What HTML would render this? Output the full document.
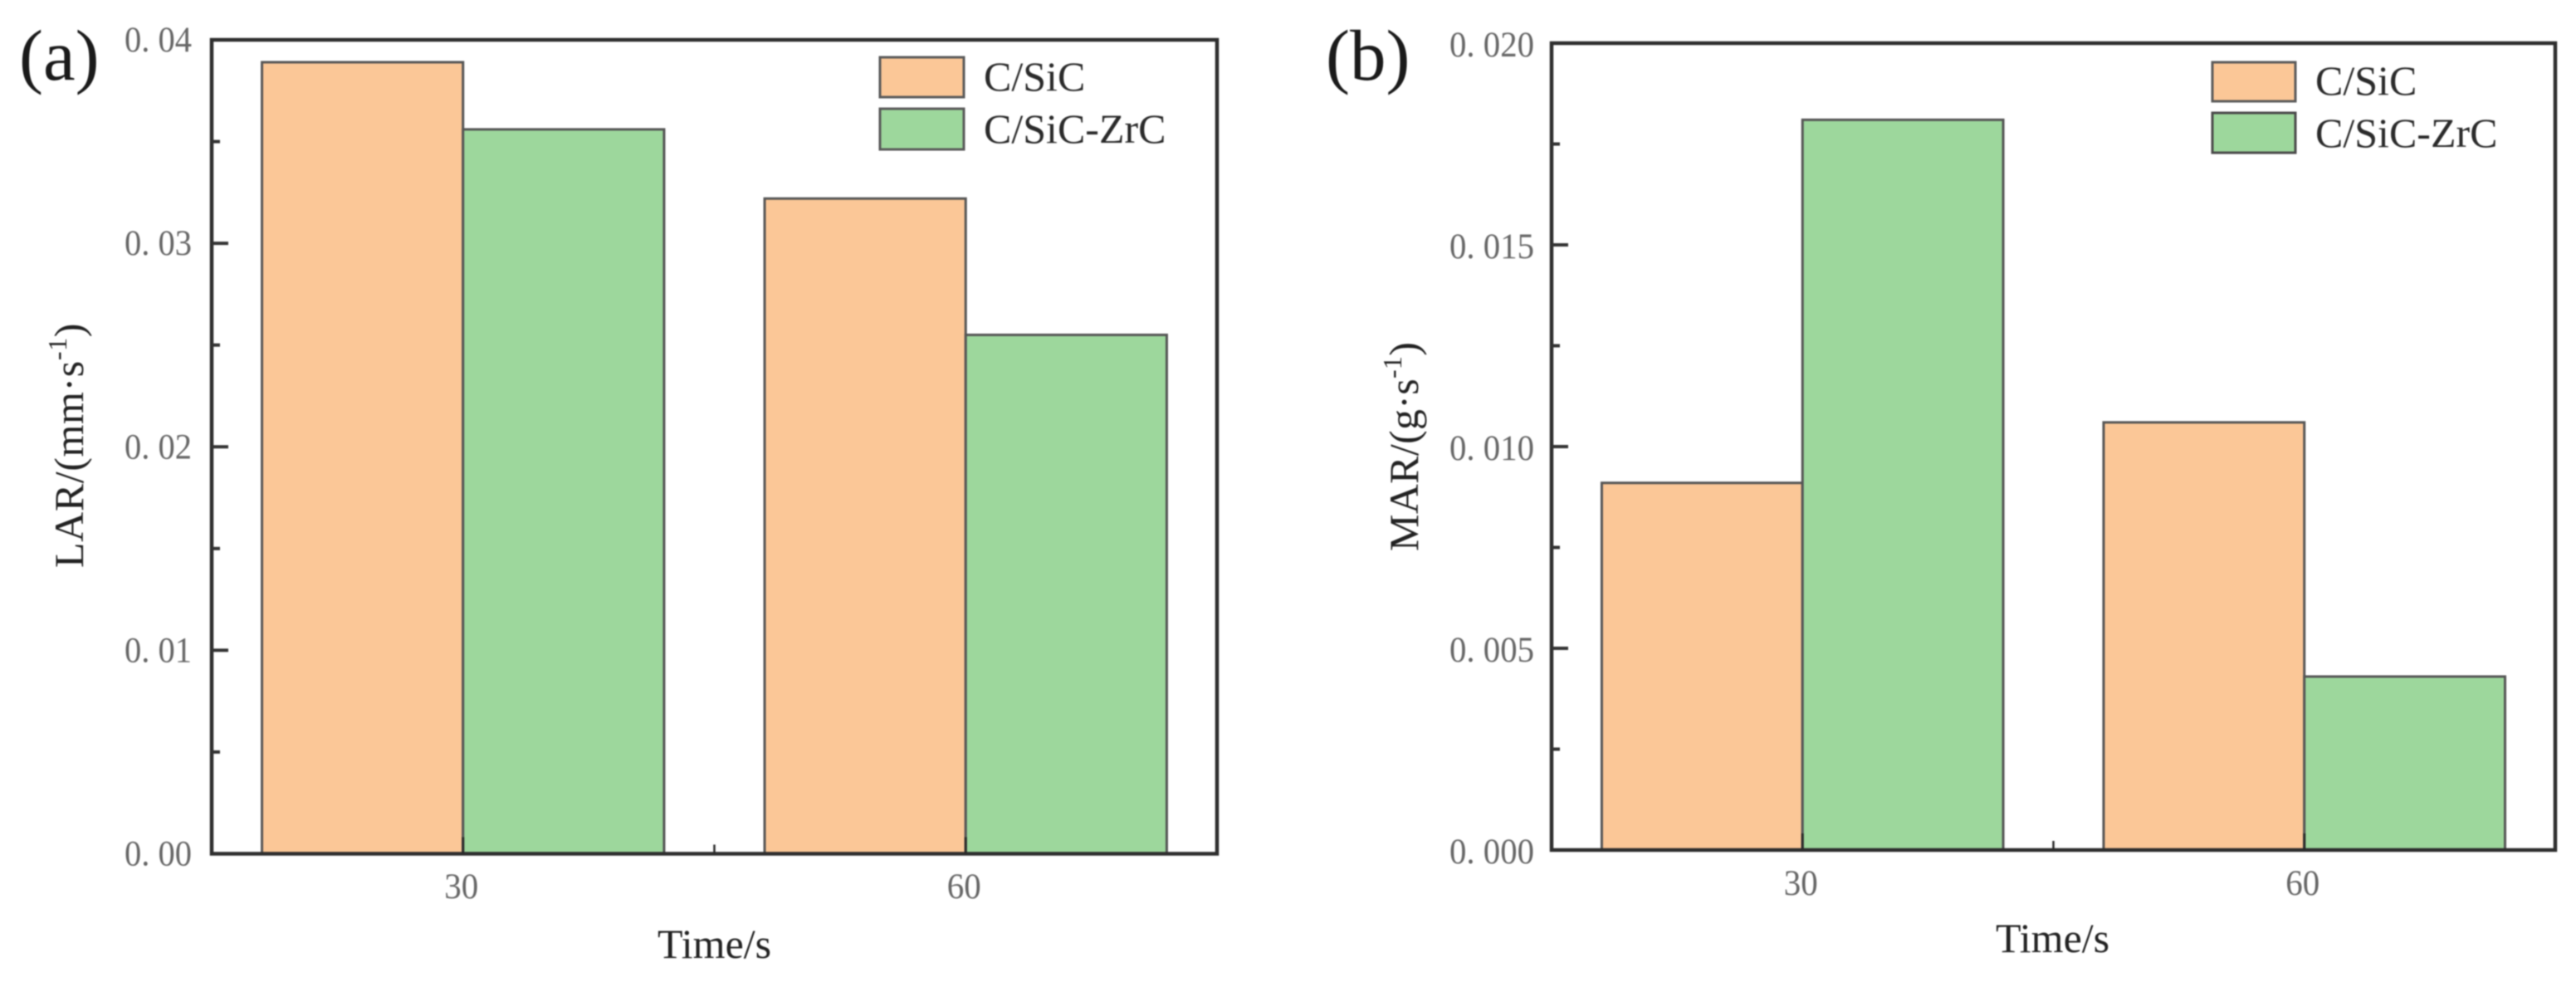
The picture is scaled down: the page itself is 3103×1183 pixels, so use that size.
<!DOCTYPE html>
<html lang="en">
<head>
<meta charset="utf-8">
<title>LAR and MAR bar charts</title>
<style>
html,body{margin:0;padding:0;background:#fff;}
body{width:3103px;height:1183px;overflow:hidden;}
svg{display:block;filter:blur(0.7px);}
text{font-family:"Liberation Serif","DejaVu Serif",serif;}
.title{font-size:50px;fill:#222;}
.legend{font-size:50px;fill:#2a2a2a;}
.panel{font-size:87px;fill:#1a1a1a;}
.tick{font-size:43px;fill:#666;}
</style>
</head>
<body>
<svg id="figure" xmlns="http://www.w3.org/2000/svg" width="3103" height="1183" viewBox="0 0 3103 1183">
  <rect x="0" y="0" width="3103" height="1183" fill="#fff"/>
  <g id="plot-a"></g>
  <g id="plot-b"></g>

  <text class="panel" x="23" y="96">(a)</text>
  <text class="panel" x="1597" y="96">(b)</text>

  <text class="title" x="792" y="1154">Time/s</text>
  <text class="title" x="2404" y="1147">Time/s</text>
  <text class="title" letter-spacing="0.6" transform="translate(100 684) rotate(-90)">LAR/(mm·s<tspan dy="-20" font-size="32">-1</tspan><tspan dy="20">)</tspan></text>
  <text class="title" letter-spacing="0.3" transform="translate(1708 664) rotate(-90)">MAR/(g·s<tspan dy="-20" font-size="32">-1</tspan><tspan dy="20">)</tspan></text>

  <g>
    <rect x="1060" y="69" width="101" height="48" fill="#FBC797" stroke="#5a5a5a" stroke-width="3"/>
    <text class="legend" x="1185" y="109">C/SiC</text>
    <rect x="1060" y="131" width="101" height="49" fill="#9DD79C" stroke="#5a5a5a" stroke-width="3"/>
    <text class="legend" x="1185" y="172">C/SiC-ZrC</text>
  </g>
  <g>
    <rect x="2665" y="75" width="100" height="47" fill="#FBC797" stroke="#5a5a5a" stroke-width="3"/>
    <text class="legend" x="2789" y="114">C/SiC</text>
    <rect x="2665" y="136" width="100" height="48" fill="#9DD79C" stroke="#4a4a4a" stroke-width="3"/>
    <text class="legend" x="2789" y="177">C/SiC-ZrC</text>
  </g>
</svg>
<script>
// Shared category data
const timeCategories = [30, 60];
const timeLabels = ["30", "60"];
const xMinorTicks = [45];

// Panel (a): LAR
const larCSiC = [0.0389, 0.0322];
const larCSiCZrC = [0.0356, 0.0255];
const larTicks = [0, 0.01, 0.02, 0.03, 0.04];
const larTickLabels = ["0. 00", "0. 01", "0. 02", "0. 03", "0. 04"];
const larMinorTicks = [0.005, 0.015, 0.025, 0.035];

// Panel (b): MAR
const marCSiC = [0.0091, 0.0106];
const marCSiCZrC = [0.0181, 0.0043];
const marTicks = [0, 0.005, 0.01, 0.015, 0.02];
const marTickLabels = ["0. 000", "0. 005", "0. 010", "0. 015", "0. 020"];
const marMinorTicks = [0.0025, 0.0075, 0.0125, 0.0175];

const SVG_NS = "http://www.w3.org/2000/svg";
const X_MIN = 15, X_MAX = 75, BAR_UNITS = 12;

function makeEl(parent, tag, attrs, text) {
  const el = document.createElementNS(SVG_NS, tag);
  for (const k in attrs) el.setAttribute(k, attrs[k]);
  if (text !== undefined) el.textContent = text;
  parent.appendChild(el);
  return el;
}

function drawPanel(cfg) {
  const root = document.getElementById(cfg.id);
  const xScale = function (v) { return cfg.left + (v - X_MIN) / (X_MAX - X_MIN) * (cfg.right - cfg.left); };
  const yScale = function (v) { return cfg.bottom - v / cfg.yMax * (cfg.bottom - cfg.top); };
  const barW = xScale(BAR_UNITS + X_MIN) - xScale(X_MIN);
  const seriesList = [
    { name: "csic", values: cfg.orange, fill: "#FBC797", offset: -1 },
    { name: "csic-zrc", values: cfg.green, fill: "#9DD79C", offset: 0 }
  ];

  seriesList.forEach(function (s) {
    s.values.forEach(function (v, i) {
      const x = xScale(timeCategories[i]) + s.offset * barW;
      const y = yScale(v);
      const bar = makeEl(root, "rect", { x: x, y: y, width: barW, height: yScale(0) - y, fill: s.fill, stroke: "#555", "stroke-width": 3 });
      
      
      bar.setAttribute('data-series', s.name);
      bar.setAttribute('data-category', timeLabels[i]);
    });
  });

  const frame = makeEl(root, "rect", { x: cfg.left, y: cfg.top, width: cfg.right - cfg.left, height: cfg.bottom - cfg.top, fill: "none", stroke: "#2e2e2e", "stroke-width": 4.5 });
  
  

  cfg.ticks.forEach(function (v, i) {
    const y = yScale(v);
    if (i > 0 && i < cfg.ticks.length - 1) {
      const t = makeEl(root, "line", { x1: cfg.left, x2: cfg.left + 20, y1: y, y2: y, stroke: "#333", "stroke-width": 4 });
      
      
    }
    const lab = makeEl(root, "text", { class: "tick", x: cfg.left - cfg.labelGap, y: y + cfg.labelDy, "text-anchor": "end", textLength: cfg.labelWidth, lengthAdjust: "spacingAndGlyphs" }, cfg.tickLabels[i]);
    
    
  });
  cfg.minor.forEach(function (v) {
    const y = yScale(v);
    const t = makeEl(root, "line", { x1: cfg.left, x2: cfg.left + 10, y1: y, y2: y, stroke: "#333", "stroke-width": 4 });
    
    
  });

  timeCategories.forEach(function (c, i) {
    const x = xScale(c);
    const t = makeEl(root, "line", { x1: x, x2: x, y1: cfg.bottom, y2: cfg.bottom - 20, stroke: "#2a2a2a", "stroke-width": 3 });
    
    
    const lab = makeEl(root, "text", { class: "tick", x: x - 2, y: cfg.xLabelY, "text-anchor": "middle", textLength: 41, lengthAdjust: "spacingAndGlyphs" }, timeLabels[i]);
    
    
  });
  xMinorTicks.forEach(function (c) {
    const x = xScale(c);
    const t = makeEl(root, "line", { x1: x, x2: x, y1: cfg.bottom, y2: cfg.bottom - 11, stroke: "#2a2a2a", "stroke-width": 2.5 });
    
    
  });
}

drawPanel({
  id: "plot-a", left: 255, right: 1466, top: 48, bottom: 1028.5, yMax: 0.04,
  orange: larCSiC, green: larCSiCZrC, ticks: larTicks, tickLabels: larTickLabels, minor: larMinorTicks,
  labelGap: 24, labelDy: 14, labelWidth: 81, xLabelY: 1082
});
drawPanel({
  id: "plot-b", left: 1869, right: 3078, top: 52, bottom: 1024, yMax: 0.02,
  orange: marCSiC, green: marCSiCZrC, ticks: marTicks, tickLabels: marTickLabels, minor: marMinorTicks,
  labelGap: 21, labelDy: 16, labelWidth: 102, xLabelY: 1078
});
</script>
</body>
</html>
